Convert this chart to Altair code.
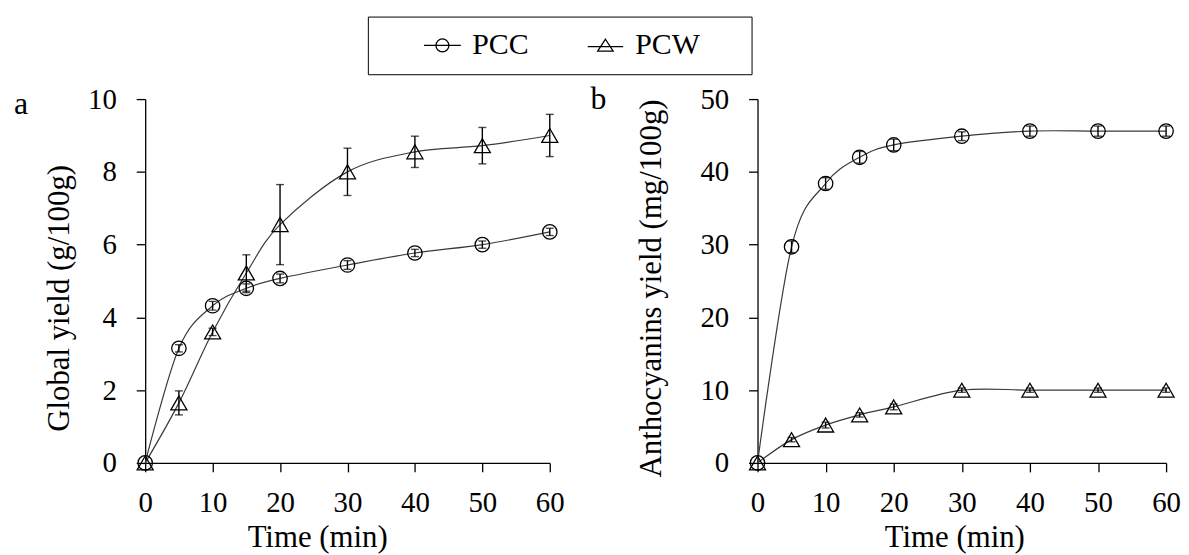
import altair as alt
import pandas as pd

# ---- data ----
time = [0, 5, 10, 15, 20, 30, 40, 50, 60]
series_names = ["PCC", "PCW"]

# panel a: global yield (g/100g)
a_pcc = [0, 3.15, 4.32, 4.8, 5.07, 5.44, 5.77, 6.0, 6.35]
a_pcc_err = [0, 0.1, 0.12, 0.12, 0.12, 0.12, 0.1, 0.1, 0.1]
a_pcw = [0, 1.65, 3.6, 5.22, 6.55, 8.0, 8.55, 8.72, 9.0]
a_pcw_err = [0, 0.33, 0.1, 0.5, 1.1, 0.65, 0.43, 0.5, 0.58]

# panel b: anthocyanins yield (mg/100g)
b_pcc = [0, 29.7, 38.4, 42.0, 43.7, 44.9, 45.6, 45.6, 45.6]
b_pcc_err = [0, 0.8, 0.8, 0.8, 0.8, 0.6, 0.7, 0.7, 0.7]
b_pcw = [0, 3.2, 5.2, 6.6, 7.7, 10.0, 10.0, 10.0, 10.0]
b_pcw_err = [0, 0.3, 0.4, 0.3, 0.4, 0.3, 0.3, 0.3, 0.3]

x_ticks = [0, 10, 20, 30, 40, 50, 60]
a_ticks = [0, 2, 4, 6, 8, 10]
b_ticks = [0, 10, 20, 30, 40, 50]

FONT = "Liberation Serif"
circle_path = "M-2.85,0H2.85M1,0A1,1,0,1,1,-1,0A1,1,0,1,1,1,0"
tri_path = "M-2.75,0.2H2.75M0,-0.95L1.2,0.9L-1.2,0.9Z"
PAD_RIGHT = "\u00a0\u00a0\u2800"


def make_df(pcc, pcc_err, pcw, pcw_err):
    rows = []
    for s, vals, errs in (("PCC", pcc, pcc_err), ("PCW", pcw, pcw_err)):
        for t, v, e in zip(time, vals, errs):
            rows.append({"t": t, "v": v, "e": e, "lo": v - e, "hi": v + e, "series": s})
    return pd.DataFrame(rows)


def panel(df, ymax, yticks, ytitle, letter, letter_x, letter_y, width, height,
          xtitle_x, ytitle_y, ytitle_pad, with_legend):
    xs = alt.Scale(domain=[0, 60], nice=False, zero=False)
    ys = alt.Scale(domain=[0, ymax], nice=False)
    xaxis = alt.Axis(values=x_ticks, title="Time (min)", grid=False,
                     labelFont=FONT, labelFontSize=29, labelColor="black",
                     labelBaseline="alphabetic", labelPadding=40, labelFlush=False,
                     tickSize=9, tickColor="black", tickWidth=1.3,
                     domainColor="black", domainWidth=1.3,
                     titleFont=FONT, titleFontSize=31, titleFontWeight="normal",
                     titleColor="black", titleX=xtitle_x, titleY=84,
                     titleBaseline="alphabetic", titleAlign="center")
    yaxis = alt.Axis(values=yticks, title=ytitle, grid=False,
                     labelFont=FONT, labelFontSize=29, labelColor="black",
                     labelPadding=20, labelFlush=False,
                     tickSize=9, tickColor="black", tickWidth=1.3,
                     domainColor="black", domainWidth=1.3,
                     titleFont=FONT, titleFontSize=31, titleFontWeight="normal",
                     titleColor="black", titleY=ytitle_y, titlePadding=ytitle_pad)
    X = alt.X("t:Q", scale=xs, axis=xaxis)
    base = alt.Chart(df)
    line = base.mark_line(interpolate="cardinal", color="#3a3a3a", strokeWidth=1.2).encode(
        x=X, y=alt.Y("v:Q", scale=ys, axis=yaxis), detail="series:N")
    errdf = base.transform_filter("datum.e > 0")
    err = errdf.mark_rule(color="black", strokeWidth=1.4).encode(
        x=X, y=alt.Y("lo:Q", scale=ys, axis=yaxis), y2="hi:Q")
    cap_lo = errdf.mark_tick(orient="horizontal", size=8, thickness=1.4, color="black").encode(
        x=X, y=alt.Y("lo:Q", scale=ys, axis=yaxis))
    cap_hi = errdf.mark_tick(orient="horizontal", size=8, thickness=1.4, color="black").encode(
        x=X, y=alt.Y("hi:Q", scale=ys, axis=yaxis))
    circ = base.transform_filter("datum.series == 'PCC'").mark_point(
        shape="circle", size=210, filled=False, color="black", strokeWidth=1.3, opacity=1).encode(
        x=X, y=alt.Y("v:Q", scale=ys, axis=yaxis))
    tri = base.transform_filter("datum.series == 'PCW'").mark_point(
        shape="triangle-up", size=260, filled=False, color="black", strokeWidth=1.3, opacity=1).encode(
        x=X, y=alt.Y("v:Q", scale=ys, axis=yaxis))
    lab = alt.Chart(pd.DataFrame({"lab": [letter]})).mark_text(
        font=FONT, fontSize=32, color="black", align="left", baseline="alphabetic").encode(
        text="lab:N", x=alt.value(letter_x), y=alt.value(letter_y))
    layers = [line, err, cap_lo, cap_hi, circ, tri, lab]
    if with_legend:
        leg = base.mark_point(opacity=0, filled=False, color="black", size=169).encode(
            x=X, y=alt.Y("v:Q", scale=ys, axis=yaxis),
            shape=alt.Shape("series:N",
                            scale=alt.Scale(domain=series_names, range=[circle_path, tri_path]),
                            legend=alt.Legend(
                                title="\u00a0", titleOrient="left", titlePadding=46,
                                titleFontSize=2,
                                orient="none", legendX=224, legendY=-83,
                                direction="horizontal",
                                strokeColor="black", padding=14,
                                labelFont=FONT, labelFontSize=30, labelColor="black",
                                labelOffset=15, columnPadding=56,
                                labelExpr="datum.label == 'PCW' ? datum.label + '" + PAD_RIGHT + "' : datum.label",
                                symbolSize=169, symbolStrokeColor="black", symbolStrokeWidth=1.3,
                                symbolFillColor="transparent", symbolOpacity=1)))
        layers.append(leg)
    return alt.layer(*layers).properties(width=width, height=height)


df_a = make_df(a_pcc, a_pcc_err, a_pcw, a_pcw_err)
df_b = make_df(b_pcc, b_pcc_err, b_pcw, b_pcw_err)

pa = panel(df_a, 10, a_ticks, "Global yield (g/100g)", "a", -132, 15, 407, 366,
           173, 200, 12, True)
pb = panel(df_b, 50, b_ticks, "Anthocyanins yield (mg/100g)", "b", -168, 10, 411, 366,
           198, 190, 33, False)

chart = alt.hconcat(pa, pb, spacing=209, bounds="flush").properties(
    padding={"left": 6, "top": 6, "right": 0, "bottom": 0},
    background="white",
).configure(font=FONT).configure_axis(
    labelFont=FONT, titleFont=FONT
).configure_legend(
    labelFont=FONT, titleFont=FONT
).configure_view(stroke=None)

chart.save("out.html", embed_options={"renderer": "svg", "actions": False})
